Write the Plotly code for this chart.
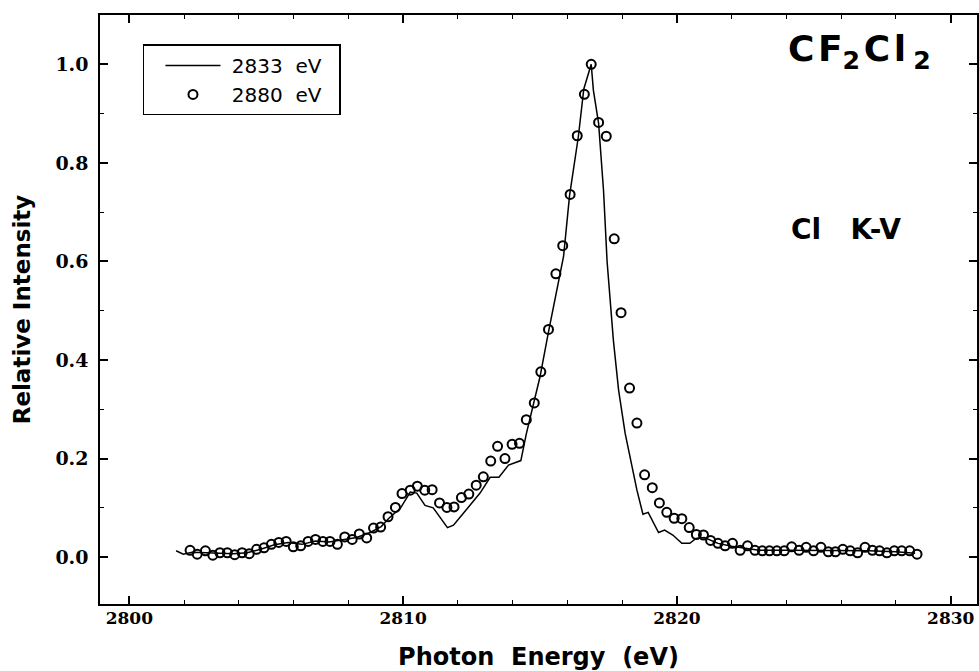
import plotly.graph_objects as go

# ---- data ----
energy_2880 = [2802.22, 2802.48, 2802.78, 2803.05, 2803.31, 2803.58, 2803.85, 2804.12, 2804.38, 2804.65,
               2804.92, 2805.19, 2805.46, 2805.73, 2805.99, 2806.26, 2806.53, 2806.80, 2807.07, 2807.33,
               2807.60, 2807.87, 2808.14, 2808.40, 2808.67, 2808.92, 2809.18, 2809.45, 2809.72, 2809.96,
               2810.26, 2810.52, 2810.79, 2811.06, 2811.33, 2811.60, 2811.86, 2812.13, 2812.40, 2812.67,
               2812.93, 2813.20, 2813.45, 2813.72, 2813.98, 2814.25, 2814.50, 2814.79, 2815.03, 2815.31,
               2815.58, 2815.83, 2816.10, 2816.36, 2816.62, 2816.87, 2817.14, 2817.42, 2817.71, 2817.96,
               2818.27, 2818.54, 2818.82, 2819.10, 2819.36, 2819.63, 2819.90, 2820.18, 2820.45, 2820.71,
               2820.97, 2821.23, 2821.50, 2821.76, 2822.03, 2822.31, 2822.58, 2822.85, 2823.12, 2823.38,
               2823.65, 2823.92, 2824.19, 2824.46, 2824.72, 2824.99, 2825.26, 2825.53, 2825.79, 2826.06,
               2826.33, 2826.60, 2826.87, 2827.14, 2827.40, 2827.67, 2827.94, 2828.21, 2828.50, 2828.77]
intensity_2880 = [0.014, 0.006, 0.013, 0.004, 0.009, 0.009, 0.005, 0.009, 0.007, 0.016,
                  0.019, 0.026, 0.030, 0.032, 0.021, 0.023, 0.032, 0.036, 0.032, 0.032,
                  0.026, 0.041, 0.036, 0.047, 0.039, 0.059, 0.061, 0.082, 0.101, 0.129,
                  0.136, 0.144, 0.136, 0.137, 0.110, 0.101, 0.102, 0.121, 0.128, 0.146,
                  0.163, 0.195, 0.225, 0.200, 0.229, 0.231, 0.279, 0.313, 0.376, 0.462,
                  0.575, 0.632, 0.736, 0.855, 0.939, 1.000, 0.882, 0.854, 0.646, 0.496,
                  0.343, 0.272, 0.167, 0.141, 0.110, 0.091, 0.079, 0.078, 0.060, 0.046,
                  0.045, 0.034, 0.028, 0.023, 0.028, 0.014, 0.023, 0.014, 0.013, 0.013,
                  0.013, 0.013, 0.021, 0.014, 0.020, 0.013, 0.020, 0.011, 0.011, 0.016,
                  0.013, 0.009, 0.020, 0.014, 0.013, 0.009, 0.013, 0.013, 0.013, 0.006]

energy_2833 = [2801.71, 2801.97, 2802.3, 2802.8, 2803.3, 2803.8, 2804.3, 2804.8, 2805.3, 2805.8,
               2806.3, 2806.8, 2807.3, 2807.8, 2808.3, 2808.8, 2809.2, 2809.5, 2809.9, 2810.26,
               2810.5, 2810.8, 2811.1, 2811.62, 2811.84, 2812.14, 2812.45, 2812.81, 2813.18, 2813.5,
               2813.85, 2814.3, 2814.5, 2814.76, 2815.0, 2815.31, 2815.62, 2815.86, 2816.08, 2816.4,
               2816.6, 2816.87, 2816.95, 2817.14, 2817.32, 2817.45, 2817.68, 2817.87, 2818.11, 2818.36,
               2818.54, 2818.76, 2818.95, 2819.33, 2819.55, 2819.85, 2820.18, 2820.47, 2820.7, 2821.0,
               2821.5, 2822.0, 2822.5, 2823.0, 2824.0, 2825.0, 2826.0, 2827.0, 2828.0, 2828.7]
intensity_2833 = [0.013, 0.006, 0.010, 0.009, 0.008, 0.007, 0.009, 0.016, 0.025, 0.030,
                  0.026, 0.033, 0.031, 0.035, 0.040, 0.050, 0.062, 0.080, 0.099, 0.132,
                  0.130, 0.105, 0.100, 0.060, 0.065, 0.085, 0.105, 0.130, 0.162, 0.162,
                  0.187, 0.196, 0.250, 0.312, 0.366, 0.457, 0.545, 0.610, 0.734, 0.853,
                  0.950, 1.000, 0.947, 0.880, 0.744, 0.600, 0.440, 0.339, 0.251, 0.183,
                  0.136, 0.087, 0.091, 0.050, 0.055, 0.045, 0.028, 0.028, 0.038, 0.040,
                  0.028, 0.022, 0.018, 0.014, 0.014, 0.014, 0.013, 0.013, 0.011, 0.008]

x_tickvals = [2800, 2810, 2820, 2830]
x_ticktext = ["2800", "2810", "2820", "2830"]
y_tickvals = [0.0, 0.2, 0.4, 0.6, 0.8, 1.0]
y_ticktext = ["0.0", "0.2", "0.4", "0.6", "0.8", "1.0"]

SANS = "DejaVu Sans"
SERIF = "DejaVu Serif"

fig = go.Figure()
fig.add_trace(go.Scatter(
    x=energy_2833, y=intensity_2833, mode="lines",
    name="\u00a02833\u00a0\u00a0eV\u00a0\u00a0",
    line=dict(color="black", width=1.5),
))
fig.add_trace(go.Scatter(
    x=energy_2880, y=intensity_2880, mode="markers",
    name="\u00a02880\u00a0\u00a0eV\u00a0\u00a0",
    marker=dict(symbol="circle-open", size=9, color="black", line=dict(color="black", width=2)),
))

axis_common = dict(
    showline=True, linecolor="black", linewidth=1.5, mirror="allticks",
    ticks="inside", tickcolor="black", tickwidth=1.5, ticklen=8,
    showgrid=False, zeroline=False, automargin=False,
)

fig.update_xaxes(
    range=[2798.93, 2830.96],
    tickmode="array", tickvals=x_tickvals, ticktext=x_ticktext,
    tickfont=dict(family=SERIF, size=17, color="black", weight="bold"),
    minor=dict(dtick=2, tick0=2800, ticks="inside", ticklen=4, tickwidth=1.2, tickcolor="black", showgrid=False),
    title=dict(text="Photon\u00a0\u00a0Energy\u00a0\u00a0(eV)", font=dict(family=SANS, size=24, color="black", weight="bold"), standoff=21),
    ticklabelstandoff=-2,
    **axis_common,
)
fig.update_yaxes(
    range=[-0.095, 1.1],
    tickmode="array", tickvals=y_tickvals, ticktext=y_ticktext,
    tickfont=dict(family=SERIF, size=19, color="black", weight="bold"),
    minor=dict(dtick=0.1, tick0=0, ticks="inside", ticklen=4, tickwidth=1.2, tickcolor="black", showgrid=False),
    title=dict(text="Relative Intensity", font=dict(family=SANS, size=23, color="black", weight="bold"), standoff=18),
    ticklabelstandoff=6,
    **axis_common,
)

fig.add_annotation(
    x=2824.0, y=1.025, xref="x", yref="y", xanchor="left", yanchor="middle",
    text="C\u200aF<sub>2</sub>\u200aC\u200al\u200a\u200a<sub>2</sub>", showarrow=False,
    font=dict(family=SANS, size=36, color="black", weight="bold"),
)
fig.add_annotation(
    x=2824.1, y=0.665, xref="x", yref="y", xanchor="left", yanchor="middle",
    text="Cl\u00a0\u00a0\u00a0K-V", showarrow=False,
    font=dict(family=SANS, size=28, color="black", weight="bold"),
)

fig.update_layout(
    width=979, height=671,
    margin=dict(l=100, r=2, t=15, b=67),
    paper_bgcolor="white", plot_bgcolor="white",
    showlegend=True,
    legend=dict(
        x=0.049, y=0.95, xanchor="left", yanchor="top",
        bgcolor="white", bordercolor="black", borderwidth=1.5,
        font=dict(family=SANS, size=20, color="black"),
        itemwidth=55, tracegroupgap=0, indentation=16,
    ),
)

fig.write_html("out.html", config={"displayModeBar": False},
               post_script="document.body.style.margin='0';document.body.style.overflow='hidden';")
